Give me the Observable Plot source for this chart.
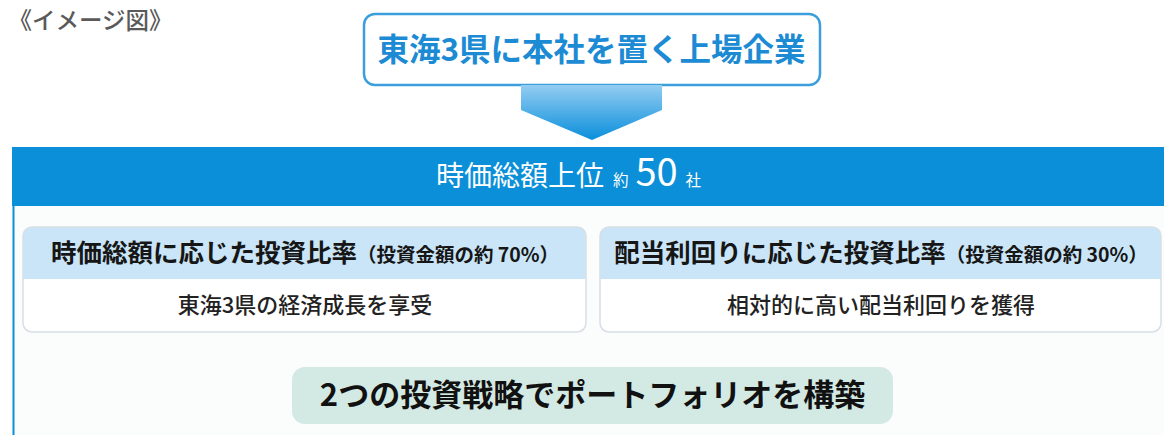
<!DOCTYPE html>
<html>
<head>
<meta charset="utf-8">
<script src="https://cdn.jsdelivr.net/npm/d3@7"></script>
<script src="https://cdn.jsdelivr.net/npm/@observablehq/plot@0.6"></script>
<style>
  body { margin: 0; background: #fff; }
  #chart svg { display: block; }
</style>
</head>
<body>
<div id="chart"></div>
<script>
// texts of the diagram
const tag = "《イメージ図》";
const source = "東海3県に本社を置く上場企業";
const universeLabel = "時価総額上位";
const universeApprox = "約";
const universeCount = 50;
const universeUnit = "社";
const strategyNames = ["時価総額に応じた投資比率", "配当利回りに応じた投資比率"];
const strategyShares = [70, 30];
const strategyEffects = ["東海3県の経済成長を享受", "相対的に高い配当利回りを獲得"];
const outcome = "2つの投資戦略でポートフォリオを構築";

// layout (pixels)
const W = 1164, H = 435;
const font = "'Noto Sans CJK JP', 'Noto Sans', sans-serif";
const blue = "#0b8fd8";
const cardCols = [[23, 586], [600, 1161]];
const cardTop = 227, headBottom = 279, cardBottom = 332;

const cards = strategyNames.map((name, i) => ({
  name,
  share: strategyShares[i],
  effect: strategyEffects[i],
  x1: cardCols[i][0],
  x2: cardCols[i][1],
  cx: (cardCols[i][0] + cardCols[i][1]) / 2
}));
const headText = d => `${d.name}（投資金額の約 ${d.share}%）`;
const bandText = `${universeLabel} ${universeApprox} ${universeCount} ${universeUnit}`;

const arrow = [
  {x: 521, y1: 85, y2: 110},
  {x: 592, y1: 85, y2: 140},
  {x: 662, y1: 85, y2: 110}
];

let chart = Plot.plot({
  width: W,
  height: H,
  margin: 0,
  x: {domain: [0, W], axis: null},
  y: {domain: [0, H], axis: null, reverse: true},
  style: {fontFamily: font, background: "#fff"},
  marks: [
    // lower panel
    Plot.rect([0], {x1: 12, x2: W, y1: 147, y2: H, fill: "#fbfcfc"}),
    Plot.ruleX([13], {y1: 147, y2: H, stroke: blue, strokeWidth: 2}),
    // source box
    Plot.rect([0], {x1: 364, x2: 820, y1: 14, y2: 85, rx: 11, fill: "#fff", stroke: "#3c9fdb", strokeWidth: 2.5}),
    Plot.text([source], {x: 591, y: 50, text: d => d, fontSize: 31.5, fontWeight: 700, fill: "#1d8bd4"}),
    // arrow
    Plot.areaY(arrow, {x: "x", y1: "y1", y2: "y2", fill: "url(#arrowGrad)"}),
    // universe band
    Plot.rect([0], {x1: 12, x2: W, y1: 147, y2: 206, fill: blue}),
    Plot.text([bandText], {x: 568, y: 177, text: d => d, fontSize: 28, fontWeight: 400, fill: "#fff"}),
    // strategy cards
    Plot.rect(cards, {x1: "x1", x2: "x2", y1: cardTop, y2: cardBottom, rx: 9, fill: "#fff"}),
    Plot.rect(cards, {x1: "x1", x2: "x2", y1: cardTop, y2: headBottom, rx: 9, fill: "#c9e5f7"}),
    Plot.rect(cards, {x1: "x1", x2: "x2", y1: cardTop + 20, y2: headBottom, fill: "#c9e5f7"}),
    Plot.rect(cards, {x1: "x1", x2: "x2", y1: cardTop, y2: cardBottom, rx: 9, fill: "none", stroke: "#d6dfe5", strokeWidth: 1.5}),
    Plot.text(cards, {x: "cx", y: 253, text: headText, fontSize: 25.5, fontWeight: 700, fill: "#161616"}),
    Plot.text(cards, {x: "cx", y: 305, text: "effect", fontSize: 22, fontWeight: 500, fill: "#222"}),
    // outcome pill
    Plot.rect([0], {x1: 292, x2: 893, y1: 367, y2: 424, rx: 13, fill: "#d3e9e3"}),
    Plot.text([outcome], {x: 592, y: 396, text: d => d, fontSize: 31, fontWeight: 700, fill: "#111"}),
    // tag
    Plot.text([tag], {x: 8, y: 21, text: d => d, textAnchor: "start", fontSize: 23.5, fontWeight: 500, fill: "#5a5a5a"})
  ]
});

d3.select("#chart").append(() => chart);

// gradient for the arrow
const defs = d3.select(chart).insert("defs", ":first-child");
const grad = defs.append("linearGradient").attr("id", "arrowGrad")
  .attr("x1", 0).attr("y1", 0).attr("x2", 0).attr("y2", 1);
grad.append("stop").attr("offset", "0%").attr("stop-color", "#93cdf2");
grad.append("stop").attr("offset", "100%").attr("stop-color", "#0a8edb");

// mixed font sizes inside one line; each part: [text, size, gap before]
function rich(content, parts) {
  d3.select(chart).selectAll("text").filter(function () { return this.textContent === content; })
    .each(function () {
      const t = d3.select(this);
      t.text(null);
      parts.forEach(([s, size, gap]) => t.append("tspan").attr("font-size", size).attr("dx", gap || 0).text(s));
    });
}
rich(bandText, [[universeLabel, 28], [universeApprox, 15.5, 9], [String(universeCount), 38, 7], [universeUnit, 15.5, 8]]);
cards.forEach(d => rich(headText(d), [[d.name, 25.5], [`（投資金額の約 ${d.share}%）`, 19.5]]));
</script>
</body>
</html>
